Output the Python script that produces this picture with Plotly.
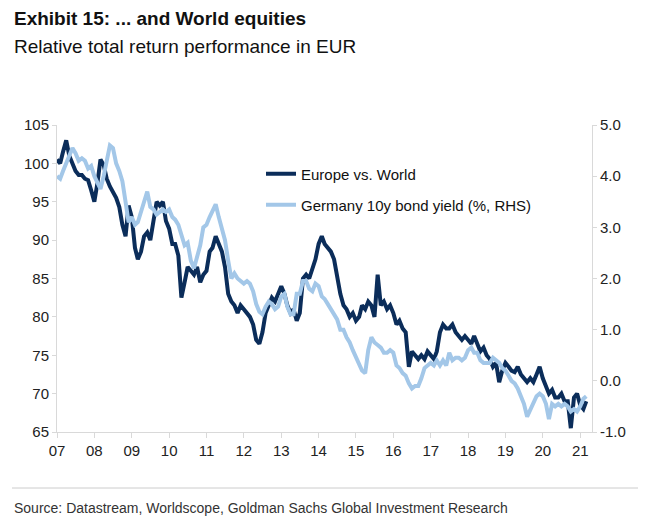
import pandas as pd
import plotly.graph_objects as go

# Monthly observations, Jan 2007 - Mar 2021
europe_vs_world = [
    # 2007
    100.5, 100.0, 101.5, 103.0, 101.0, 100.0, 99.0, 98.5, 98.5, 98.0, 97.8, 96.5,
    # 2008
    95.0, 97.5, 100.5, 99.8, 98.0, 97.0, 96.3, 95.5, 94.3, 92.0, 90.5, 94.5,
    # 2009
    93.0, 89.0, 87.5, 88.5, 90.5, 91.0, 90.0, 92.5, 95.0, 94.5, 95.0, 92.5,
    # 2010
    91.5, 89.5, 89.5, 88.0, 82.5, 84.5, 86.5, 86.0, 85.5, 86.5, 84.5, 85.5,
    # 2011
    86.0, 88.5, 89.0, 90.5, 89.5, 88.5, 86.5, 83.0, 82.0, 81.5, 80.5, 81.5,
    # 2012
    81.0, 80.5, 80.0, 79.0, 77.0, 76.5, 78.0, 80.5, 81.5, 82.5, 82.0, 83.0,
    # 2013
    84.0, 83.0, 81.5, 80.5, 81.0, 79.5, 80.5, 85.0, 85.5, 85.0, 86.5, 87.5,
    # 2014
    89.5, 90.5, 89.5, 89.0, 88.5, 87.5, 85.0, 83.0, 81.5, 81.0, 80.0, 80.5,
    # 2015
    79.5, 80.0, 81.5, 81.0, 82.0, 81.5, 80.0, 85.5, 81.5, 82.0, 81.0, 81.5,
    # 2016
    80.5, 79.0, 79.5, 78.5, 78.0, 73.5, 75.5, 75.0, 74.5, 75.0, 74.5, 75.5,
    # 2017
    75.0, 74.5, 75.5, 78.0, 79.0, 78.5, 78.5, 79.0, 78.0, 77.5, 77.0, 77.5,
    # 2018
    77.0, 76.5, 77.5, 76.5, 75.5, 76.0, 75.0, 74.5, 73.5, 74.0, 71.5, 73.0,
    # 2019
    74.0, 73.5, 73.0, 72.8, 73.5, 72.5, 72.0, 71.5, 72.0, 71.5, 72.5, 73.5,
    # 2020
    72.0, 71.0, 70.0, 70.5, 69.5, 69.5, 70.0, 69.0, 69.0, 65.5, 69.5, 70.0,
    # 2021
    68.5, 68.0, 69.0,
]

germany_10y_yield = [
    # 2007
    4.0, 3.95, 4.1, 4.25, 4.4, 4.55, 4.45, 4.3, 4.35, 4.3, 4.15, 4.2,
    # 2008
    4.0, 3.85, 3.75, 4.0, 4.3, 4.6, 4.55, 4.25, 4.1, 3.9, 3.5, 3.1,
    # 2009
    3.2, 3.05, 3.1, 3.3, 3.55, 3.7, 3.4, 3.35, 3.25, 3.3, 3.35, 3.3,
    # 2010
    3.35, 3.2, 3.15, 3.05, 2.85, 2.65, 2.7, 2.35, 2.2, 2.4, 2.65, 3.0,
    # 2011
    3.05, 3.2, 3.3, 3.45, 3.2, 3.0, 2.75, 2.35, 2.0, 2.1, 2.0, 1.95,
    # 2012
    1.9, 1.95, 1.9, 1.75, 1.5, 1.35, 1.3, 1.45, 1.55, 1.5, 1.4, 1.45,
    # 2013
    1.65, 1.7, 1.45, 1.3, 1.3, 1.7, 1.7, 1.95, 1.95, 1.8, 1.75, 1.9,
    # 2014
    1.85, 1.65, 1.6, 1.5, 1.4, 1.3, 1.2, 1.0, 1.0, 0.85, 0.75, 0.6,
    # 2015
    0.45, 0.35, 0.2, 0.15, 0.6, 0.85, 0.75, 0.7, 0.65, 0.55, 0.55, 0.6,
    # 2016
    0.55, 0.3, 0.25, 0.15, 0.1, -0.05, -0.15, -0.1, -0.1, 0.05, 0.25, 0.3,
    # 2017
    0.35, 0.3, 0.4, 0.3, 0.4, 0.3, 0.55, 0.4, 0.45, 0.45, 0.4, 0.45,
    # 2018
    0.6, 0.65, 0.55, 0.55, 0.4, 0.35, 0.35, 0.35, 0.45, 0.4, 0.35, 0.25,
    # 2019
    0.2, 0.1, 0.0, -0.05, -0.15, -0.3, -0.45, -0.7, -0.55, -0.4, -0.3, -0.25,
    # 2020
    -0.3, -0.45, -0.75, -0.45, -0.5, -0.45, -0.5, -0.45, -0.5, -0.6, -0.55, -0.6,
    # 2021
    -0.5, -0.35, -0.3,
]

dates = pd.date_range("2007-01-01", periods=len(europe_vs_world), freq="MS")

left_ticks = [65, 70, 75, 80, 85, 90, 95, 100, 105]
right_ticks = [-1, 0, 1, 2, 3, 4, 5]
right_tick_labels = ["-1.0", "0.0", "1.0", "2.0", "3.0", "4.0", "5.0"]

DARK = "#0b2d5a"
LIGHT = "#a3c7e8"
AXIS = "#d9d9d9"
FONT = "Liberation Sans, Arial, sans-serif"

# The page body adds an 8px margin; lay the figure out in screen pixels.
OFF = 8
SCREEN_W, SCREEN_H = 650, 527
W, H = SCREEN_W - OFF, SCREEN_H - OFF
PLOT_L, PLOT_R, PLOT_T, PLOT_B = 57, 592, 125, 432  # screen pixels
L = PLOT_L - OFF
T = PLOT_T - OFF
R = W - (PLOT_R - OFF)
B = H - (PLOT_B - OFF)
pw, ph = PLOT_R - PLOT_L, PLOT_B - PLOT_T


def px_x(px):
    return (px - PLOT_L) / pw


def px_y(py):
    return (PLOT_B - py) / ph


fig = go.Figure()
fig.add_trace(go.Scatter(
    x=dates, y=germany_10y_yield, yaxis="y2", mode="lines",
    name="Germany 10y bond yield (%, RHS)",
    line=dict(color=LIGHT, width=4), legend="legend2",
))
fig.add_trace(go.Scatter(
    x=dates, y=europe_vs_world, mode="lines",
    name="Europe vs. World",
    line=dict(color=DARK, width=4), legend="legend",
))

fig.update_layout(
    width=W, height=H,
    margin=dict(l=L, r=R, t=T, b=B),
    paper_bgcolor="white", plot_bgcolor="white",
    font=dict(family=FONT, size=15, color="#222222"),
    xaxis=dict(
        type="date", range=["2007-01-01", "2021-04-26"],
        tick0="2007-01-01", dtick="M12", tickformat="%y",
        showgrid=False, zeroline=False,
        showline=True, linecolor=AXIS, linewidth=1,
        ticks="outside", ticklen=5, tickcolor=AXIS,
        tickfont=dict(size=15, color="#222222"),
    ),
    yaxis=dict(
        range=[65, 105], tickvals=left_ticks,
        showgrid=False, zeroline=False,
        showline=True, linecolor=AXIS, linewidth=1,
        ticks="outside", ticklen=4, tickcolor=AXIS,
        tickfont=dict(size=15, color="#222222"),
    ),
    yaxis2=dict(
        range=[-1, 5], tickvals=right_ticks, ticktext=right_tick_labels,
        overlaying="y", side="right",
        showgrid=False, zeroline=False,
        showline=True, linecolor=AXIS, linewidth=1,
        ticks="outside", ticklen=4, tickcolor=AXIS,
        tickfont=dict(size=15, color="#222222"),
    ),
    legend=dict(
        x=px_x(261), y=px_y(174), xanchor="left", yanchor="middle",
        bgcolor="rgba(0,0,0,0)", font=dict(size=15, color="#111111"),
    ),
    legend2=dict(
        x=px_x(261), y=px_y(205), xanchor="left", yanchor="middle",
        bgcolor="rgba(0,0,0,0)", font=dict(size=15, color="#111111"),
    ),
    showlegend=True,
)

fig.add_annotation(
    text="<b>Exhibit 15: ... and World equities</b>",
    xref="paper", yref="paper", x=px_x(12), y=px_y(18),
    xanchor="left", yanchor="middle", showarrow=False,
    font=dict(family=FONT, size=19, color="#111111"),
)
fig.add_annotation(
    text="Relative total return performance in EUR",
    xref="paper", yref="paper", x=px_x(12), y=px_y(46),
    xanchor="left", yanchor="middle", showarrow=False,
    font=dict(family=FONT, size=19, color="#111111"),
)
fig.add_annotation(
    text="Source: Datastream, Worldscope, Goldman Sachs Global Investment Research",
    xref="paper", yref="paper", x=px_x(12), y=px_y(508),
    xanchor="left", yanchor="middle", showarrow=False,
    font=dict(family=FONT, size=14, color="#333333"),
)
fig.add_shape(
    type="line", xref="paper", yref="paper",
    x0=px_x(12), x1=px_x(638), y0=px_y(488), y1=px_y(488),
    line=dict(color="#cccccc", width=1),
)

fig.write_html("out.html")
